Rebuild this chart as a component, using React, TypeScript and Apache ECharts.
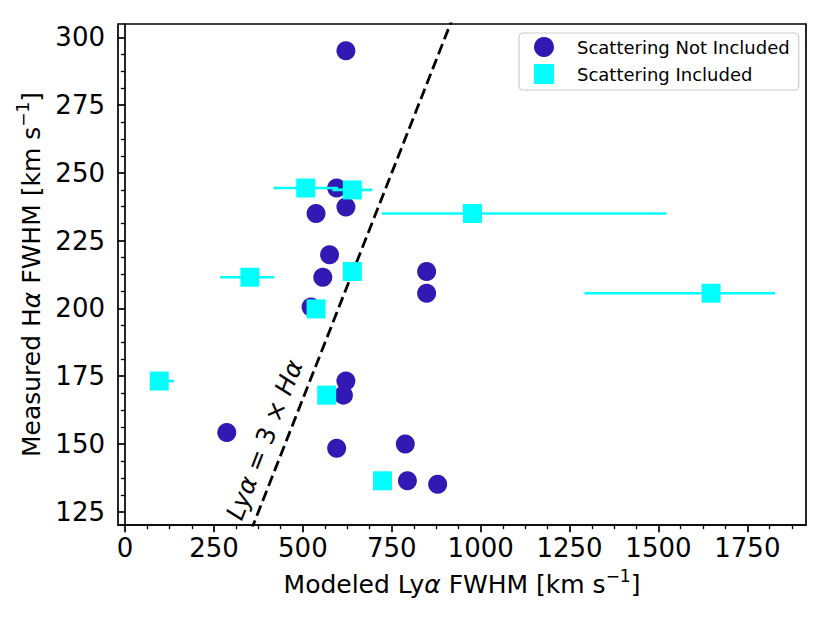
import React, { useEffect, useRef } from 'react';
import * as echarts from 'echarts';

// Scattering Not Included (circles)
const notInclX = [621, 595, 537, 621, 575, 556, 523, 848, 848, 621, 614, 286, 595, 788, 794, 879];
const notInclY = [295, 244.4, 235, 237.4, 219.8, 211.5, 200.5, 213.6, 205.6, 173.2, 168, 154.2, 148.4, 150, 136.4, 135.1];

// Scattering Included (squares) with horizontal error bars
const inclX = [508, 639, 977, 351, 639, 537, 96, 567, 724, 1648];
const inclY = [244.4, 243.7, 235, 211.5, 213.6, 199.8, 173.2, 168, 136.4, 205.6];
const inclLo = [417, 583, 722, 267, 639, 537, 75, 567, 724, 1292];
const inclHi = [599, 695, 1523, 419, 639, 537, 138, 567, 724, 1828];

// Reference relation Lya = 3 x Ha
const lineRatio = 3;
const lineY = [118, 306];

const xMajorTicks = [0, 250, 500, 750, 1000, 1250, 1500, 1750];
const xMinorTicks = [62.5, 125, 187.5, 312.5, 375, 437.5, 562.5, 625, 687.5, 812.5, 875, 937.5,
  1062.5, 1125, 1187.5, 1312.5, 1375, 1437.5, 1562.5, 1625, 1687.5, 1812.5, 1875];
const yMajorTicks = [125, 150, 175, 200, 225, 250, 275, 300];
const yMinorTicks = [131.25, 137.5, 143.75, 156.25, 162.5, 168.75, 181.25, 187.5, 193.75,
  206.25, 212.5, 218.75, 231.25, 237.5, 243.75, 256.25, 262.5, 268.75, 281.25, 287.5, 293.75];

const xRange = [-20, 1915];
const yRange = [120.1, 304.9];

const annotationAt = [392, 151.5];

const FONT = 'DejaVu Sans';
const CIRCLE_COLOR = '#3319b3';
const SQUARE_COLOR = '#00ffff';

export default function App() {
  const ref = useRef<HTMLDivElement>(null);

  useEffect(() => {
    if (!ref.current) return;
    const chart = echarts.init(ref.current, undefined, { renderer: 'svg' });

    const nameRich = {
      n: { fontSize: 25, fontFamily: FONT, color: '#000', lineHeight: 34 },
      i: { fontSize: 25, fontFamily: FONT, color: '#000', fontStyle: 'italic', lineHeight: 34 },
      s: { fontSize: 17, fontFamily: FONT, color: '#000', verticalAlign: 'top', lineHeight: 17 },
    };

    const plain = (v: number) => String(v);

    const option: any = {
      animation: false,
      backgroundColor: '#fff',
      grid: {
        left: 118, right: 24, top: 24, bottom: 98,
        show: true, borderColor: '#000', borderWidth: 1.7, backgroundColor: 'transparent',
      },
      legend: {
        left: 519, top: 33,
        orient: 'vertical',
        padding: [4, 9, 6, 15],
        itemWidth: 20, itemHeight: 20, itemGap: 7,
        borderColor: '#cccccc', borderWidth: 1.2, borderRadius: 4,
        backgroundColor: 'rgba(255,255,255,0.8)',
        textStyle: { fontSize: 18, fontFamily: FONT, color: '#000', padding: [0, 0, 0, 18] },
        data: [
          { name: 'Scattering Not Included', icon: 'circle' },
          { name: 'Scattering Included', icon: 'rect' },
        ],
      },
      xAxis: [
        {
          type: 'value', min: xRange[0], max: xRange[1], position: 'bottom',
          splitLine: { show: false },
          axisLine: { show: true, lineStyle: { color: '#000', width: 1.7 } },
          axisTick: { show: true, inside: false, length: 7.3, lineStyle: { color: '#000', width: 1.7 }, customValues: xMajorTicks },
          axisLabel: { show: true, fontSize: 26, fontFamily: FONT, color: '#000', margin: 10, customValues: xMajorTicks, formatter: plain },
          name: '{n|Modeled Ly}{i|α}{n| FWHM [km s}{s|−1}{n|]}',
          nameLocation: 'middle', nameGap: 42,
          nameTextStyle: { fontSize: 25, fontFamily: FONT, color: '#000', rich: nameRich },
        },
        {
          type: 'value', min: xRange[0], max: xRange[1], position: 'bottom',
          splitLine: { show: false },
          axisLine: { show: false },
          axisTick: { show: true, inside: false, length: 4.2, lineStyle: { color: '#000', width: 1.3 }, customValues: xMinorTicks },
          axisLabel: { show: false, customValues: xMinorTicks },
        },
      ],
      yAxis: [
        {
          type: 'value', min: yRange[0], max: yRange[1], position: 'left',
          splitLine: { show: false },
          axisLine: { show: true, lineStyle: { color: '#000', width: 1.7 } },
          axisTick: { show: true, inside: false, length: 7.3, lineStyle: { color: '#000', width: 1.7 }, customValues: yMajorTicks },
          axisLabel: { show: true, fontSize: 26, fontFamily: FONT, color: '#000', margin: 13, customValues: yMajorTicks, formatter: plain },
          name: '{n|Measured H}{i|α}{n| FWHM [km s}{s|−1}{n|]}',
          nameLocation: 'middle', nameGap: 66,
          nameTextStyle: { fontSize: 25, fontFamily: FONT, color: '#000', rich: nameRich },
        },
        {
          type: 'value', min: yRange[0], max: yRange[1], position: 'left',
          splitLine: { show: false },
          axisLine: { show: false },
          axisTick: { show: true, inside: false, length: 4.2, lineStyle: { color: '#000', width: 1.3 }, customValues: yMinorTicks },
          axisLabel: { show: false, customValues: yMinorTicks },
        },
      ],
      series: [
        {
          type: 'line', name: 'ratio', xAxisIndex: 0, yAxisIndex: 0,
          data: lineY.map((y) => [lineRatio * y, y]),
          symbol: 'none', clip: true, z: 1,
          lineStyle: { color: '#000', width: 2.8, type: [11, 5] },
          silent: true,
        },
        {
          type: 'scatter', name: 'Scattering Not Included', xAxisIndex: 0, yAxisIndex: 0,
          data: notInclX.map((x, i) => [x, notInclY[i]]),
          symbol: 'circle', symbolSize: 19, z: 2,
          itemStyle: { color: CIRCLE_COLOR, opacity: 1 },
        },
        {
          type: 'custom', name: 'errbars', xAxisIndex: 0, yAxisIndex: 0, z: 3,
          data: inclX.map((x, i) => [inclLo[i], inclHi[i], inclY[i]]),
          renderItem: (params: any, api: any) => {
            const a = api.coord([api.value(0), api.value(2)]);
            const b = api.coord([api.value(1), api.value(2)]);
            return {
              type: 'line',
              shape: { x1: a[0], y1: a[1], x2: b[0], y2: b[1] },
              style: { stroke: SQUARE_COLOR, lineWidth: 2.6 },
            };
          },
          silent: true,
        },
        {
          type: 'scatter', name: 'Scattering Included', xAxisIndex: 0, yAxisIndex: 0,
          data: inclX.map((x, i) => [x, inclY[i]]),
          symbol: 'rect', symbolSize: 19, z: 4,
          itemStyle: { color: SQUARE_COLOR, opacity: 1 },
        },
      ],
    };

    chart.setOption(option);

    const p = chart.convertToPixel({ xAxisIndex: 0, yAxisIndex: 0 }, annotationAt) as number[];
    chart.setOption({
      graphic: [
        {
          type: 'text',
          x: p[0], y: p[1],
          rotation: (68.7 * Math.PI) / 180,
          z: 10,
          style: {
            text: '{i|Lyα}{n| = 3 × }{i|Hα}',
            align: 'center', verticalAlign: 'middle',
            rich: {
              n: { fontSize: 25, fontFamily: FONT, fill: '#000', color: '#000' },
              i: { fontSize: 25, fontFamily: FONT, fill: '#000', color: '#000', fontStyle: 'italic' },
            },
          },
        },
      ],
    });

    return () => chart.dispose();
  }, []);

  return (
    <div
      ref={ref}
      style={{ position: 'fixed', left: 0, top: 0, width: 830, height: 623, background: '#fff' }}
    />
  );
}
